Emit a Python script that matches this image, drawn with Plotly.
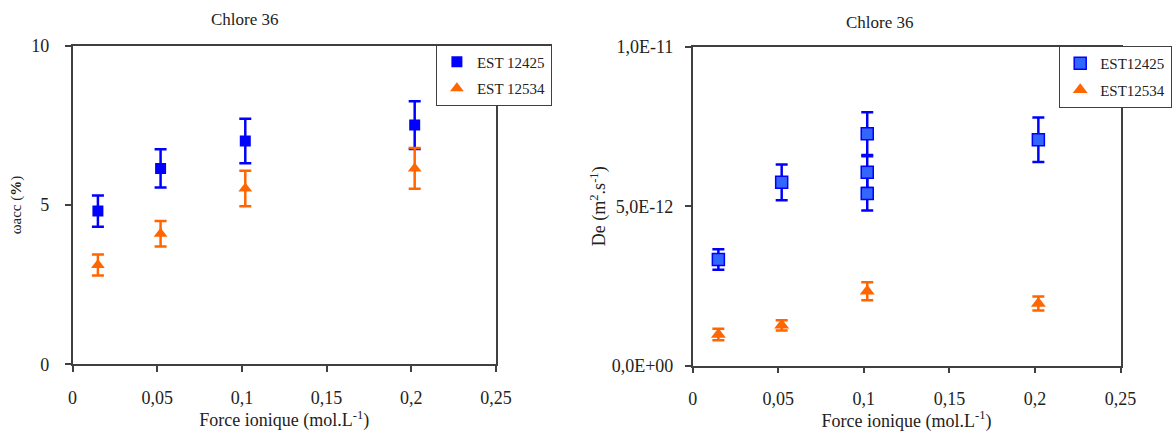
import plotly.graph_objects as go

# ---- data ----
ionic_strength = [0.015, 0.052, 0.102, 0.202]
omega_est12425 = [4.81, 6.15, 7.01, 7.51]
omega_err_est12425 = [0.49, 0.60, 0.70, 0.75]
omega_est12534 = [3.12, 4.10, 5.52, 6.15]
omega_err_est12534 = [0.33, 0.40, 0.56, 0.64]

de_x_est12425 = [0.015, 0.052, 0.102, 0.102, 0.102, 0.202]
de_est12425 = [3.33e-12, 5.75e-12, 7.28e-12, 6.07e-12, 5.40e-12, 7.09e-12]
de_err_est12425 = [0.32e-12, 0.56e-12, 0.67e-12, 0.50e-12, 0.53e-12, 0.70e-12]
de_x_est12534 = [0.015, 0.052, 0.102, 0.202]
de_est12534 = [0.97e-12, 1.26e-12, 2.33e-12, 1.95e-12]
de_err_est12534 = [0.18e-12, 0.16e-12, 0.28e-12, 0.22e-12]

x_tickvals = [0, 0.05, 0.1, 0.15, 0.2, 0.25]
x_ticktext = ["0", "0,05", "0,1", "0,15", "0,2", "0,25"]
omega_tickvals = [0, 5, 10]
omega_ticktext = ["0", "5", "10"]
de_tickvals = [0, 5e-12, 1e-11]
de_ticktext = ["0,0E+00", "5,0E-12", "1,0E-11"]

BLUE = "#0000FF"
BLUE_FILL = "#3366FF"
ORANGE = "#FF6600"
FONT = "Liberation Serif, DejaVu Serif, Times New Roman, serif"
AXC = "#404040"
W, H = 1175, 432

fig = go.Figure()

fig.add_trace(go.Scatter(
    x=ionic_strength, y=omega_est12425, mode="markers", name="EST 12425",
    marker=dict(symbol="square", size=11, color=BLUE),
    error_y=dict(type="data", array=omega_err_est12425, color=BLUE, thickness=2.5, width=6),
    xaxis="x", yaxis="y", legend="legend", legendgroup="a"))
fig.add_trace(go.Scatter(
    x=ionic_strength, y=omega_est12534, mode="markers", name="EST 12534",
    marker=dict(symbol="triangle-up", size=12, color=ORANGE),
    error_y=dict(type="data", array=omega_err_est12534, color=ORANGE, thickness=2.5, width=6),
    xaxis="x", yaxis="y", legend="legend", legendgroup="b"))

fig.add_trace(go.Scatter(
    x=de_x_est12425, y=de_est12425, mode="markers", name="EST12425",
    marker=dict(symbol="square", size=12, color=BLUE_FILL, line=dict(color=BLUE, width=1.5)),
    error_y=dict(type="data", array=de_err_est12425, color=BLUE, thickness=2.5, width=6),
    xaxis="x2", yaxis="y2", legend="legend2", legendgroup="c"))
fig.add_trace(go.Scatter(
    x=de_x_est12534, y=de_est12534, mode="markers", name="EST12534",
    marker=dict(symbol="triangle-up", size=13, color=ORANGE),
    error_y=dict(type="data", array=de_err_est12534, color=ORANGE, thickness=2.5, width=6),
    xaxis="x2", yaxis="y2", legend="legend2", legendgroup="d"))

axis_common = dict(showline=True, linecolor=AXC, linewidth=1.5, mirror=True,
                   ticks="outside", ticklen=6, tickwidth=1.5, tickcolor=AXC,
                   showgrid=False, zeroline=False, automargin=False,
                   tickfont=dict(family=FONT, size=18, color="#222"))

fig.update_layout(
    width=W, height=H, margin=dict(l=0, r=0, t=0, b=0, autoexpand=False),
    paper_bgcolor="white", plot_bgcolor="white",
    font=dict(family=FONT, color="#222"),
    xaxis=dict(domain=[72.5 / W, 496 / W], range=[0, 0.25], tickvals=x_tickvals,
               ticktext=x_ticktext, anchor="y", ticklabelstandoff=10,
               title=dict(text="Force ionique (mol.L<sup>-1</sup>)",
                          font=dict(family=FONT, size=18), standoff=6),
               **axis_common),
    yaxis=dict(domain=[1 - 364.3 / H, 1 - 45.8 / H], range=[0, 10], tickvals=omega_tickvals,
               ticktext=omega_ticktext, anchor="x", ticklabelstandoff=12,
               title=dict(text="ωacc (<b>%</b>)", font=dict(family=FONT, size=15), standoff=6),
               **axis_common),
    xaxis2=dict(domain=[692.7 / W, 1120.5 / W], range=[0, 0.25], tickvals=x_tickvals,
                ticktext=x_ticktext, anchor="y2", ticklabelstandoff=10,
                title=dict(text="Force ionique (mol.L<sup>-1</sup>)",
                           font=dict(family=FONT, size=18), standoff=6),
                **axis_common),
    yaxis2=dict(domain=[1 - 365.5 / H, 1 - 47 / H], range=[0, 1e-11], tickvals=de_tickvals,
                ticktext=de_ticktext, anchor="x2", ticklabelstandoff=8,
                title=dict(text="De (m<sup>2</sup>.s<sup>-1</sup>)",
                           font=dict(family=FONT, size=18), standoff=1),
                **axis_common),
    legend=dict(x=435.7 / W, y=1 - 44.3 / H, xanchor="left", yanchor="top",
                bgcolor="white", bordercolor=AXC, borderwidth=1.2,
                font=dict(family=FONT, size=15, color="#222"), tracegroupgap=4),
    legend2=dict(x=1059 / W, y=1 - 45.7 / H, xanchor="left", yanchor="top",
                 bgcolor="white", bordercolor=AXC, borderwidth=1.2,
                 font=dict(family=FONT, size=15, color="#222"), tracegroupgap=4),
    annotations=[
        dict(text="Chlore 36", x=245 / W, y=1 - 20 / H, xref="paper", yref="paper",
             xanchor="center", yanchor="middle",
             showarrow=False, font=dict(family=FONT, size=17, color="#222")),
        dict(text="Chlore 36", x=880 / W, y=1 - 22.5 / H, xref="paper", yref="paper",
             xanchor="center", yanchor="middle",
             showarrow=False, font=dict(family=FONT, size=17, color="#222")),
    ],
)

fig.write_html("out.html")
